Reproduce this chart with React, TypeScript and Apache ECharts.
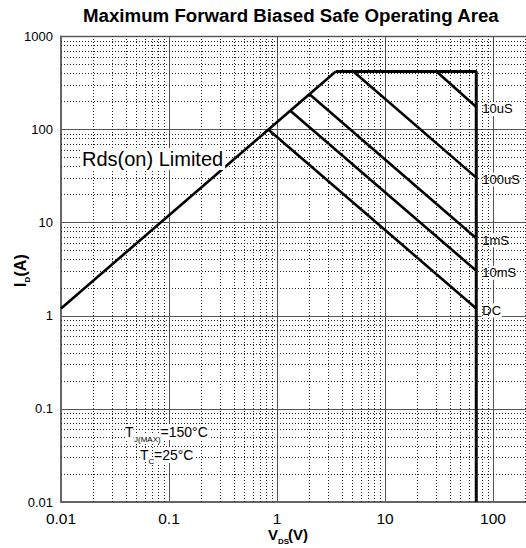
import React, { useEffect, useRef } from "react";
import * as echarts from "echarts";

// ---- data ----
const xTicks = [0.01, 0.1, 1, 10, 100];
const xTickLabels = ["0.01", "0.1", "1", "10", "100"];
const yTicks = [0.01, 0.1, 1, 10, 100, 1000];
const yTickLabels = ["0.01", "0.1", "1", "10", "100", "1000"];
const minorMultipliers = [2, 3, 4, 5, 6, 7, 8, 9];

const rdsLimit = [[0.01, 1.2], [3.5, 420]];
const boundary = [[3.5, 420], [70, 420], [70, 0.01]];
const line10us = [[30, 420], [70, 175]];
const line100us = [[5.1, 420], [70, 30.5]];
const line1ms = [[2.0, 240], [70, 6.8]];
const line10ms = [[1.32, 160], [70, 3.05]];
const lineDC = [[0.83, 100], [70, 1.2]];
const pulseNames = ["10uS", "100uS", "1mS", "10mS", "DC"];

const FONT = "'Liberation Sans', Arial, Helvetica, sans-serif";

const minorX = xTicks.flatMap((d) => minorMultipliers.map((m) => m * d)).filter((v) => v <= 300);
const minorY = yTicks.slice(0, 5).flatMap((d) => minorMultipliers.map((m) => m * d));

const findLabel = (ticks: number[], labels: string[]) => (v: number) => {
  const i = ticks.findIndex((t) => Math.abs(t - v) / t < 1e-6);
  return i >= 0 ? labels[i] : "";
};

function pulseSeries(data: number[][], name: string) {
  return {
    type: "line",
    name,
    silent: true,
    symbol: "none",
    z: 3,
    color: "#000",
    itemStyle: { color: "#000" },
    lineStyle: { color: "#000", width: 2.6 },
    data,
    endLabel: {
      show: true,
      formatter: name,
      distance: 5,
      fontFamily: FONT,
      fontSize: 13,
      color: "#000",
      textBorderWidth: 0,
      backgroundColor: "#fff",
      padding: [1, 1, 0, 1],
      offset: [0, 2],
    },
  };
}

export default function App() {
  const ref = useRef<HTMLDivElement>(null);
  useEffect(() => {
    document.body.style.margin = "0";
    const chart = echarts.init(ref.current!, null, { renderer: "svg" });
    const pulses = [line10us, line100us, line1ms, line10ms, lineDC];
    chart.setOption({
      animation: false,
      color: ["#000"],
      title: {
        text: "Maximum Forward Biased Safe Operating Area",
        left: 83,
        top: 6,
        padding: 0,
        textStyle: { fontFamily: FONT, fontSize: 18.7, fontWeight: "bold", color: "#000" },
      },
      grid: {
        left: 61,
        width: 540,
        top: 36.5,
        bottom: 46,
        show: true,
        borderColor: "#666",
        borderWidth: 1.5,
        outerBoundsMode: "none",
        containLabel: false,
      },
      xAxis: {
        type: "log",
        min: 0.01,
        max: 1000,
        axisLine: { show: true, lineStyle: { color: "#666", width: 2 } },
        axisTick: { show: false },
        axisLabel: {
          formatter: findLabel(xTicks, xTickLabels),
          fontFamily: FONT,
          fontSize: 15.5,
          color: "#000",
          margin: 8,
        },
        splitLine: { show: true, lineStyle: { color: "#555", width: 1 } },
      },
      yAxis: {
        type: "log",
        min: 0.01,
        max: 1000,
        axisLine: { show: true, lineStyle: { color: "#666", width: 2 } },
        axisTick: { show: false },
        axisLabel: {
          formatter: findLabel(yTicks, yTickLabels),
          fontFamily: FONT,
          fontSize: 13,
          color: "#000",
          margin: 8,
        },
        splitLine: { show: true, lineStyle: { color: "#555", width: 1 } },
      },
      series: [
        {
          type: "line",
          data: [],
          silent: true,
          z: 1,
          markLine: {
            silent: true,
            animation: false,
            symbol: ["none", "none"],
            label: { show: false },
            emphasis: { disabled: true },
            lineStyle: { color: "#222", type: [1, 2], width: 1 },
            data: [
              ...minorX.map((v) => ({ xAxis: v })),
              ...minorY.map((v) => ({ yAxis: v })),
            ],
          },
        },
        {
          type: "line",
          name: "Rds(on) Limited",
          silent: true,
          symbol: "none",
          z: 3,
          itemStyle: { color: "#000" },
          lineStyle: { color: "#000", width: 2.6 },
          data: rdsLimit,
        },
        {
          type: "line",
          name: "boundary",
          silent: true,
          symbol: "none",
          z: 3,
          itemStyle: { color: "#000" },
          lineStyle: { color: "#000", width: 3 },
          data: boundary,
        },
        ...pulses.map((d, i) => pulseSeries(d, pulseNames[i])),
      ],
      graphic: [
        {
          type: "text",
          x: 82,
          y: 159,
          z: 10,
          style: {
            text: "Rds(on) Limited",
            fontFamily: FONT,
            fontSize: 20,
            fill: "#000",
            verticalAlign: "middle",
            backgroundColor: "#fff",
            padding: [1, 2, 1, 0],
          },
        },
        // T_J(MAX)=150°C
        { type: "text", x: 125, y: 432, z: 10, style: { text: "T", fontFamily: FONT, fontSize: 14, fill: "#000", verticalAlign: "middle", backgroundColor: "#fff" } },
        { type: "text", x: 134, y: 439, z: 10, style: { text: "J(MAX)", fontFamily: FONT, fontSize: 8, fill: "#000", verticalAlign: "middle", backgroundColor: "#fff" } },
        { type: "text", x: 160.5, y: 432, z: 10, style: { text: "=150°C", fontFamily: FONT, fontSize: 14, fill: "#000", verticalAlign: "middle", backgroundColor: "#fff", padding: [1, 1, 1, 0] } },
        // T_C=25°C
        { type: "text", x: 140, y: 455, z: 10, style: { text: "T", fontFamily: FONT, fontSize: 14, fill: "#000", verticalAlign: "middle", backgroundColor: "#fff" } },
        { type: "text", x: 148.5, y: 461, z: 10, style: { text: "C", fontFamily: FONT, fontSize: 8, fill: "#000", verticalAlign: "middle", backgroundColor: "#fff" } },
        { type: "text", x: 154, y: 455, z: 10, style: { text: "=25°C", fontFamily: FONT, fontSize: 14, fill: "#000", verticalAlign: "middle", backgroundColor: "#fff", padding: [1, 1, 1, 0] } },
        // x-axis name V_DS(V)
        { type: "text", x: 268, y: 534, style: { text: "V", fontFamily: FONT, fontSize: 15, fontWeight: "bold", fill: "#000", verticalAlign: "middle" } },
        { type: "text", x: 278, y: 541, style: { text: "DS", fontFamily: FONT, fontSize: 8, fontWeight: "bold", fill: "#000", verticalAlign: "middle" } },
        { type: "text", x: 288, y: 534, style: { text: "(V)", fontFamily: FONT, fontSize: 15, fontWeight: "bold", fill: "#000", verticalAlign: "middle" } },
        // y-axis name I_D(A)
        {
          type: "group",
          x: 20,
          y: 270,
          rotation: Math.PI / 2,
          children: [
            { type: "text", x: -17, y: 0, style: { text: "I", fontFamily: FONT, fontSize: 16, fontWeight: "bold", fill: "#000", verticalAlign: "middle" } },
            { type: "text", x: -12.5, y: 7, style: { text: "D", fontFamily: FONT, fontSize: 8, fontWeight: "bold", fill: "#000", verticalAlign: "middle" } },
            { type: "text", x: -6.5, y: 0, style: { text: "(A)", fontFamily: FONT, fontSize: 16, fontWeight: "bold", fill: "#000", verticalAlign: "middle" } },
          ],
        },
      ],
    });
    return () => chart.dispose();
  }, []);
  return <div ref={ref} style={{ width: 526, height: 548 }} />;
}
